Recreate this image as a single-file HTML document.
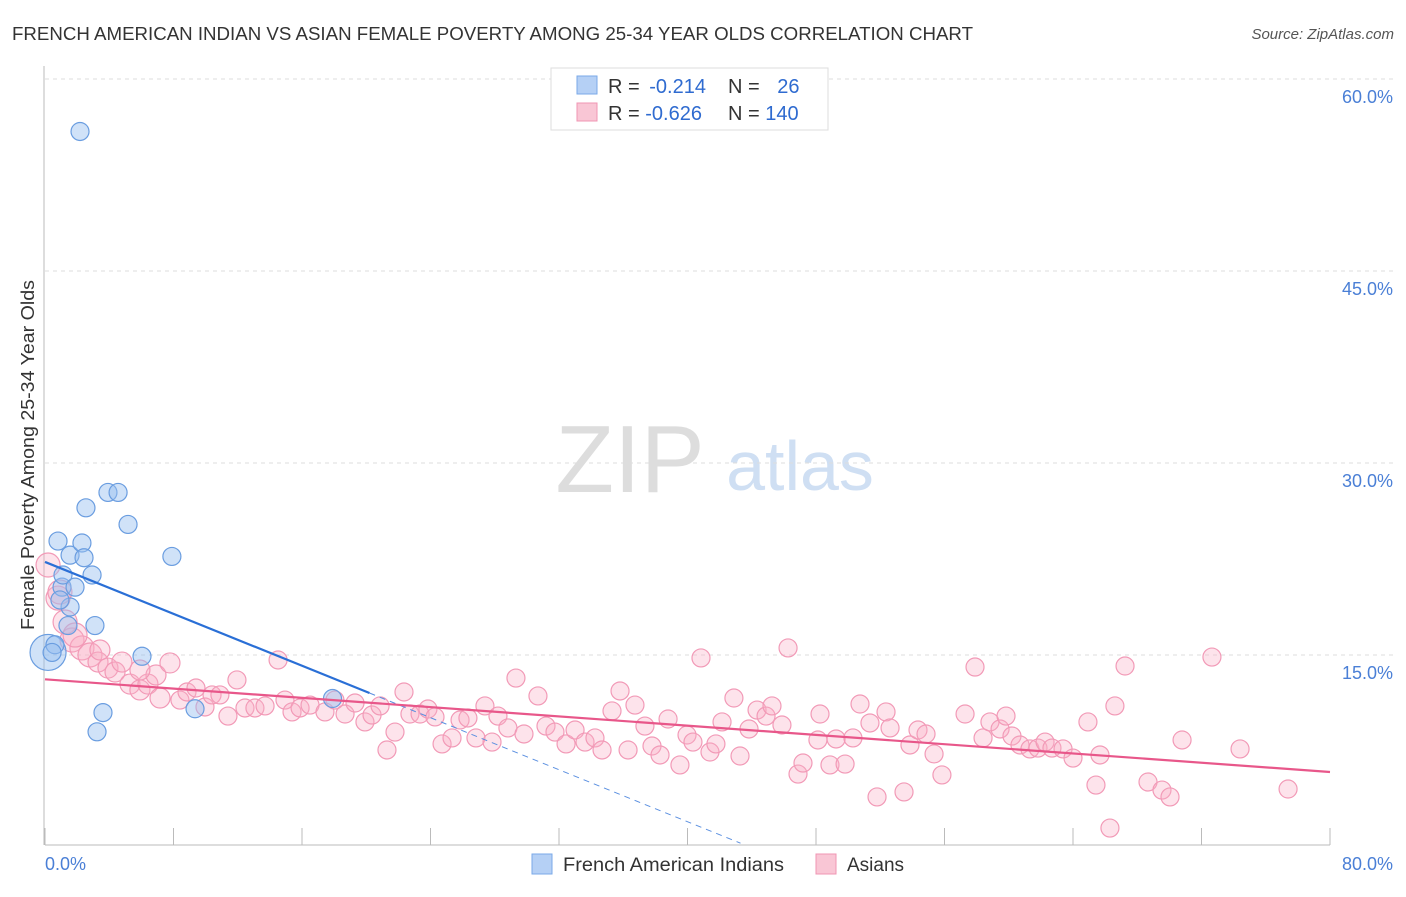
<!DOCTYPE html>
<html><head><meta charset="utf-8"><style>
body{margin:0;background:#fff;font-family:"Liberation Sans",sans-serif;}
svg text{font-family:"Liberation Sans",sans-serif;}
</style></head><body>
<svg id="chart" width="1406" height="892" xmlns="http://www.w3.org/2000/svg">
<text x="12" y="40" font-size="18" fill="#333" textLength="961" lengthAdjust="spacingAndGlyphs">FRENCH AMERICAN INDIAN VS ASIAN FEMALE POVERTY AMONG 25-34 YEAR OLDS CORRELATION CHART</text>
<text x="1394" y="39" font-size="15" fill="#555" font-style="italic" text-anchor="end">Source: ZipAtlas.com</text>
<text x="630" y="492" font-size="96" fill="#ddd" font-family="Liberation Serif" text-anchor="middle">ZIP</text>
<text x="800" y="490" font-size="70" fill="#cfdff3" text-anchor="middle">atlas</text>
<g id="grid"></g>
<g id="axes"></g>
<g id="marks"></g>
<text transform="translate(34,455) rotate(-90)" font-size="18" fill="#333" text-anchor="middle" textLength="350" lengthAdjust="spacingAndGlyphs">Female Poverty Among 25-34 Year Olds</text>
<g>
<rect x="551" y="68" width="277" height="62" fill="#fff" stroke="#ddd"/>
<rect x="577" y="76" width="20" height="18" fill="#b5d0f5" stroke="#7aa9e8"/>
<text x="608" y="93" font-size="20" fill="#333">R = <tspan fill="#2f6bd0" dx="4">-0.214</tspan></text>
<text x="728" y="93" font-size="20" fill="#333">N = <tspan fill="#2f6bd0" dx="12">26</tspan></text>
<rect x="577" y="103" width="20" height="18" fill="#f9c6d5" stroke="#f095b3"/>
<text x="608" y="120" font-size="20" fill="#333">R = <tspan fill="#2f6bd0">-0.626</tspan></text>
<text x="728" y="120" font-size="20" fill="#333">N = <tspan fill="#2f6bd0">140</tspan></text>
</g>
<g>
<rect x="532" y="854" width="20" height="20" fill="#b5d0f5" stroke="#7aa9e8"/>
<text x="563" y="871" font-size="19" fill="#333" textLength="221" lengthAdjust="spacingAndGlyphs">French American Indians</text>
<rect x="816" y="854" width="20" height="20" fill="#f9c6d5" stroke="#f095b3"/>
<text x="847" y="871" font-size="19" fill="#333">Asians</text>
</g>
</svg>
<script>
const yTicks=[15,30,45,60];
const yTickLabels=["15.0%","30.0%","45.0%","60.0%"];
const xTickLabels=["0.0%","80.0%"];
const blueX=[2.18,0.19,0.62,1.06,0.81,1.56,2.3,2.43,2.55,3.92,4.55,5.17,7.9,2.93,1.12,1.87,1.56,1.43,3.11,6.04,3.61,3.24,9.34,17.9,0.44,0.93];
const blueY=[55.9,15.2,15.8,20.3,23.9,22.8,23.75,22.6,26.5,27.7,27.7,25.2,22.7,21.25,21.25,20.3,18.75,17.3,17.3,14.9,10.5,9.0,10.8,11.6,15.2,19.3];
const pinkPx=[[48,565],[58,598],[65,622],[72,640],[82,648],[90,655],[98,662],[108,668],[115,672],[122,662],[130,684],[140,690],[148,684],[156,675],[160,698],[170,663],[180,700],[187,692],[196,688],[205,707],[212,695],[220,695],[228,716],[237,680],[245,708],[255,708],[265,706],[278,660],[285,700],[292,712],[300,708],[310,705],[325,712],[335,700],[345,714],[355,703],[365,722],[372,715],[380,706],[387,750],[395,732],[404,692],[410,714],[420,714],[428,709],[435,717],[442,744],[452,738],[460,720],[468,718],[476,738],[485,706],[492,742],[498,716],[508,728],[516,678],[524,734],[538,696],[546,726],[555,732],[566,744],[575,730],[585,742],[595,738],[602,750],[612,711],[620,691],[628,750],[635,705],[645,726],[652,746],[660,755],[668,719],[680,765],[687,735],[693,742],[701,658],[710,752],[716,744],[722,722],[734,698],[740,756],[749,729],[757,710],[766,716],[772,706],[782,725],[788,648],[798,774],[803,763],[818,740],[820,714],[830,765],[836,739],[845,764],[853,738],[860,704],[870,723],[877,797],[886,712],[890,728],[904,792],[910,745],[918,730],[926,734],[934,754],[942,775],[965,714],[975,667],[983,738],[990,722],[1000,729],[1006,716],[1012,736],[1020,745],[1030,749],[1038,748],[1045,742],[1052,748],[1063,749],[1073,758],[1088,722],[1096,785],[1100,755],[1110,828],[1115,706],[1125,666],[1148,782],[1162,790],[1170,797],[1182,740],[1212,657],[1240,749],[1288,789],[60,592],[75,635],[100,650],[140,670]];
const pinkX=pinkPx.map(p=>+((p[0]-45)/1285*80).toFixed(2));
const pinkY=pinkPx.map(p=>+((847-p[1])*15/192).toFixed(2));
const blueTrend=[[0,22.27],[20.2,12.03],[43.3,0.3]];
const pinkTrend=[[0,13.1],[80,5.86]];

const NS="http://www.w3.org/2000/svg";
const X=v=>45+v/80*1285, Y=v=>847-v*192/15;
function mk(tag,attrs,parent){const e=document.createElementNS(NS,tag);for(const k in attrs)e.setAttribute(k,attrs[k]);parent.appendChild(e);return e;}
const grid=document.getElementById('grid'),axes=document.getElementById('axes'),marks=document.getElementById('marks');
yTicks.forEach((t,i)=>{
  const l=mk('line',{x1:45,x2:1394,y1:Y(t),y2:Y(t),stroke:'#ddd','stroke-dasharray':'4,4'},grid);
  
  
  const tx=mk('text',{x:1393,y:Y(t)+24,'font-size':18,fill:'#4a7fd6','text-anchor':'end'},axes);
  tx.textContent=yTickLabels[i];
  
  
});
const ax=mk('line',{x1:45,x2:1330,y1:845,y2:845,stroke:'#bbb'},axes);


const ay=mk('line',{x1:44,x2:44,y1:66,y2:845,stroke:'#bbb'},axes);


for(let i=0;i<=10;i++){const t=mk('line',{x1:X(i*8),x2:X(i*8),y1:828,y2:845,stroke:'#bbb'},axes);
  
  }
[[0,'start',45],[80,'end',1393]].forEach((d,i)=>{const t=mk('text',{x:d[2],y:870,'font-size':18,fill:'#4a7fd6','text-anchor':d[1]},axes);t.textContent=xTickLabels[i];
  
  });
pinkX.forEach((x,i)=>{const r=x<3?12:(x<8?10:9);
  const c=mk('circle',{cx:X(x),cy:Y(pinkY[i]),r:r,fill:'rgba(248,175,198,0.35)',stroke:'#f29ab7','stroke-width':1.2},marks);
  
  });
blueX.forEach((x,i)=>{const r=i==1?18:9;
  const c=mk('circle',{cx:X(x),cy:Y(blueY[i]),r:r,fill:'rgba(150,190,240,0.45)',stroke:'#6a9de0','stroke-width':1.2},marks);
  
  });
const b1=mk('line',{x1:X(blueTrend[0][0]),y1:Y(blueTrend[0][1]),x2:X(blueTrend[1][0]),y2:Y(blueTrend[1][1]),stroke:'#2a6fd6','stroke-width':2.2},marks);


const b2=mk('line',{x1:X(blueTrend[1][0]),y1:Y(blueTrend[1][1]),x2:X(blueTrend[2][0]),y2:Y(blueTrend[2][1]),stroke:'#5a8fe0','stroke-width':1,'stroke-dasharray':'6,5'},marks);


const p1=mk('line',{x1:X(pinkTrend[0][0]),y1:Y(pinkTrend[0][1]),x2:X(pinkTrend[1][0]),y2:Y(pinkTrend[1][1]),stroke:'#e8578a','stroke-width':2.2},marks);


</script>
</body></html>
